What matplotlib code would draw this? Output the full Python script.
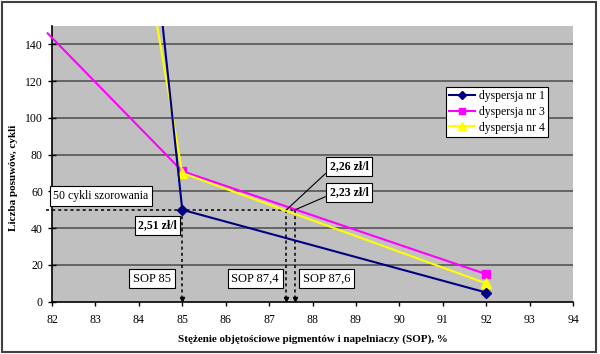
import matplotlib.pyplot as plt
from matplotlib.patches import Rectangle

# dane (pierwszy punkt poza zakresem osi jest obcięty)
sop_1 = [84.5, 85, 92]
cykle_1 = [161, 50, 5]
sop_3 = [81.9, 85, 92]
cykle_3 = [146, 71, 15]
sop_4 = [84.35, 85, 92]
cykle_4 = [160, 70, 10]
labels = ['dyspersja nr 1', 'dyspersja nr 3', 'dyspersja nr 4']

prog = 50
sop_prog = [85, 87.4, 87.6]
sop_labels = ['SOP 85', 'SOP 87,4', 'SOP 87,6']
ceny = ['2,51 zł/l', '2,26 zł/l', '2,23 zł/l']

plt.rcParams['font.family'] = ['Liberation Serif', 'DejaVu Serif']

fig = plt.figure(figsize=(6, 3.54), dpi=100)
ax = fig.add_axes([0.0867, 0.1477, 0.8683, 0.7789])
ax.set_facecolor('#c0c0c0')

# ramka wokół całego wykresu
fig.patches.append(Rectangle((0.004, 0.006), 0.99, 0.988, transform=fig.transFigure,
                             fill=False, edgecolor='#404040', lw=1.5))

for y in range(20, 150, 20):
    ax.axhline(y, color='#555555', lw=1.2, zorder=1)

ax.plot(sop_1, cykle_1, color='#000080', marker='D', markersize=5, lw=1.5,
        markevery=[1, 2], label=labels[0], zorder=4)
l3, = ax.plot(sop_3, cykle_3, color='#ff00ff', marker='s', markersize=6, lw=1.5,
              markevery=[1, 2], label=labels[1], zorder=3)
l3.set_clip_on(False)
ax.plot(sop_4, cykle_4, color='#ffff00', marker='^', markersize=7, lw=1.5,
        markevery=[1, 2], label=labels[2], zorder=3)

# linie pomocnicze
ax.plot([81.85, 87.6], [prog, prog], color='black', lw=1.1, ls=(0, (2, 2)),
        zorder=2, clip_on=False)
for x in sop_prog:
    ax.plot([x, x], [prog, 1.5], color='black', lw=1.1, ls=(0, (2, 2)), zorder=2)
    ax.plot([x], [1.5], marker='v', color='black', markersize=3, zorder=2)

box = dict(boxstyle='square,pad=0.3', fc='white', ec='black', lw=0.8)
ax.text(83.13, 57.5, '50 cykli szorowania', fontsize=8.5, ha='center', va='center',
        bbox=box, clip_on=False, zorder=6)
ax.text(84.43, 41.5, ceny[0], fontsize=8.5, fontweight='bold', ha='center',
        va='center', bbox=box, zorder=6)
for x, t in zip([84.3, 86.68, 88.33], sop_labels):
    ax.text(x, 12.5, t, fontsize=9, ha='center', va='center', bbox=box, zorder=6)

ax.annotate(ceny[1], xy=(87.4, prog), xytext=(88.84, 73.7), fontsize=8.5,
            fontweight='bold', ha='center', va='center', bbox=box, zorder=6,
            arrowprops=dict(arrowstyle='-', color='black', lw=0.8,
                            relpos=(0, 0.2), shrinkA=0, shrinkB=0))
ax.annotate(ceny[2], xy=(87.6, prog), xytext=(88.84, 59.4), fontsize=8.5,
            fontweight='bold', ha='center', va='center', bbox=box, zorder=6,
            arrowprops=dict(arrowstyle='-', color='black', lw=0.8,
                            relpos=(0, 0.3), shrinkA=0, shrinkB=0))

ax.set_xlim(82, 94)
ax.set_ylim(0, 150)
ax.set_xticks(range(82, 95))
ax.set_yticks(range(0, 150, 20))
ax.tick_params(axis='y', direction='inout', length=6, labelsize=8.5, width=1)
ax.tick_params(axis='x', direction='out', length=3, labelsize=8.5, width=1, pad=6)
for s in ['top', 'right']:
    ax.spines[s].set_visible(False)
ax.spines['left'].set_linewidth(1.2)
ax.spines['bottom'].set_linewidth(1.2)

ax.set_xlabel('Stężenie objętościowe pigmentów i napelniaczy (SOP), %',
              fontsize=8, fontweight='bold', labelpad=6)
ax.set_ylabel('Liczba posuwów, cykli', fontsize=8, fontweight='bold',
              labelpad=6)
ax.yaxis.set_label_coords(-0.066, 0.45)

leg = ax.legend(loc='upper left', bbox_to_anchor=(0.756, 0.779), fontsize=8.5,
                frameon=True, fancybox=False, framealpha=1, edgecolor='black',
                borderpad=0.3, labelspacing=0.3, handlelength=2.2,
                handletextpad=0.3, borderaxespad=0, markerscale=0.8)
leg.get_frame().set_linewidth(0.8)

fig.savefig('out.png', dpi=100)
